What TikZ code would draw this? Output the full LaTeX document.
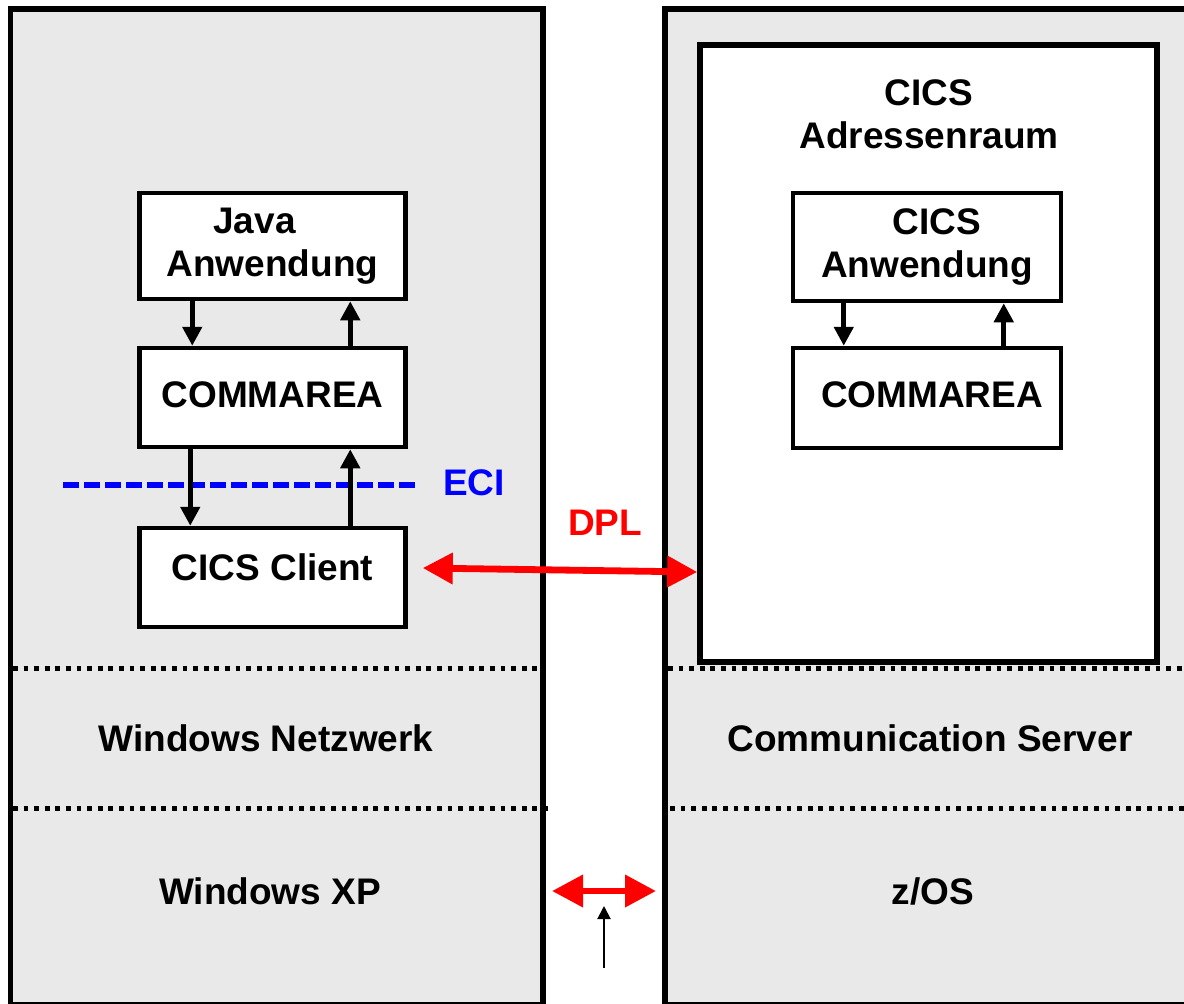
\documentclass[tikz,border=0pt]{standalone}
\usepackage{fontspec}
\setmainfont{Liberation Sans}
\usetikzlibrary{arrows.meta}
\definecolor{panelgray}{RGB}{233,233,233}
\begin{document}
\begin{tikzpicture}[x=0.5pt,y=-0.5pt,
  lbl/.style={font=\fontsize{18.5}{21.5}\selectfont\bfseries, align=center, inner sep=0pt},
  box/.style={lbl, draw, line width=2.25pt, fill=white, minimum width=133pt, minimum height=50pt},
  panel/.style={fill=panelgray, draw, line width=2.75pt},
  sep/.style={line width=2.5pt, dash pattern=on 2.4pt off 2.9pt},
  flow/.style={line width=2.5pt, -{Triangle[length=9.5pt,width=9.5pt]}},
  dpl/.style={red, line width=3.4pt, {Triangle[length=15pt,width=15pt]}-{Triangle[length=15pt,width=15pt]}},
  ecil/.style={blue, line width=2.75pt, dash pattern=on 8pt off 2.5pt},
]
\useasboundingbox (0,0) rectangle (1184,1003);
\clip (0,0) rectangle (1184,1003);
\fill[white] (0,0) rectangle (1184,1003);
% panels
\draw[panel] (10.5,9) rectangle (543,1005);
\draw[panel] (665,9) rectangle (1220,1005);
% separators
\draw[sep] (13,668) -- (545,668);
\draw[sep] (668,668) -- (1190,668);
\draw[sep] (13,808) -- (550,808);
\draw[sep] (670,808) -- (1190,808);
% CICS address space
\node[box, line width=2.75pt, minimum width=228.5pt, minimum height=308.5pt] (addr) at (928.5,353.5) {};
\node[lbl] (addrlbl) at (929,114) {CICS\\Adressenraum};
% left boxes
\node[box, minimum height=53pt] (java) at (272.5,246) {Java\hspace*{18pt}\\Anwendung};
\node[box, minimum height=49.5pt, text depth=3pt] (lcomm) at (272.5,397.5) {COMMAREA};
\node[box, minimum height=49.5pt, text depth=10pt] (client) at (272.5,577.5) {CICS Client};
% right boxes
\node[box, minimum width=134pt, minimum height=54pt] (rapp) at (927,247) {\hspace*{10pt}CICS\\Anwendung};
\node[box, minimum width=134pt, minimum height=50pt, text depth=3pt] (rcomm) at (927,398) {\hspace*{5pt}COMMAREA};
% ECI
\node[lbl, text=blue] (eci) at (474,483) {ECI};
\coordinate (ecistart) at (63,485);
\coordinate (eciend) at (418,485);
\draw[ecil] (ecistart) -- (eciend);
% flow arrows
\draw[flow] ([xshift=27.5pt]java.south west) -- ([xshift=27.5pt]lcomm.north west);
\draw[flow] ([xshift=106.5pt]lcomm.north west) -- ([xshift=106.5pt]java.south west);
\draw[flow] ([xshift=26.5pt]lcomm.south west) -- ([xshift=26.5pt]client.north west);
\draw[flow] ([xshift=106.5pt]client.north west) -- ([xshift=106.5pt]lcomm.south west);
\draw[flow] ([xshift=26.5pt]rapp.south west) -- ([xshift=26.5pt]rcomm.north west);
\draw[flow] ([xshift=106.5pt]rcomm.north west) -- ([xshift=106.5pt]rapp.south west);
% DPL
\node[lbl, text=red] (dpltxt) at (605,523) {DPL};
\draw[dpl] ([xshift=7.5pt,yshift=4.75pt]client.east) -- ([yshift=-109.25pt]addr.west);
% layer labels
\node[lbl] (winnet) at (266,738) {Windows Netzwerk};
\node[lbl] (commsrv) at (930,738) {Communication Server};
\node[lbl] (winxp) at (270,891) {Windows XP};
\node[lbl] (zos) at (933,891) {z/OS};
% bottom arrows
\coordinate (xpR) at (552,891);
\coordinate (zosL) at (656,891);
\draw[red, line width=3.4pt, {Triangle[length=15.5pt,width=15.5pt]}-{Triangle[length=15.5pt,width=15.5pt]}] (xpR) -- (zosL);
\coordinate (ptr) at (604,968);
\coordinate (ptrtip) at (604,906);
\draw[line width=1pt, -{Triangle[length=6.5pt,width=6.5pt]}] (ptr) -- (ptrtip);
\end{tikzpicture}
\end{document}
